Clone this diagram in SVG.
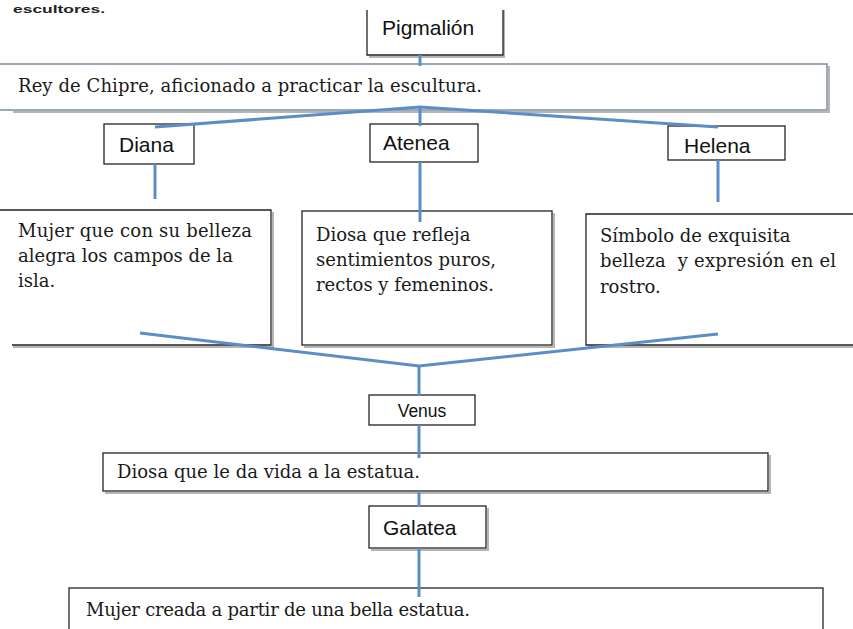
<svg xmlns="http://www.w3.org/2000/svg" width="853" height="629" viewBox="0 0 853 629">
<defs>
<style>
.bx{fill:#fff;stroke:#222;stroke-width:1.3}
.sh{fill:none;stroke:#b5b5b5;stroke-width:2}
.lbl{font-family:"Liberation Sans",Arial,sans-serif;font-size:21px;fill:#111}
.txt{font-family:"DejaVu Serif","Liberation Serif",serif;font-size:18px;fill:#1a1a1a;white-space:pre}
.con{stroke:#5b8ec6;stroke-width:3;fill:none;stroke-linecap:butt}
</style>
</defs>
<rect width="853" height="629" fill="#fff"/>
<text x="13" y="13" font-family="Liberation Sans, Arial, sans-serif" font-size="10" font-weight="bold" fill="#222" textLength="92" lengthAdjust="spacingAndGlyphs">escultores.</text>

<g id="pigmalion">
<path class="sh" d="M504,10 V57 H369"/>
<path class="bx" d="M367,10 V55 H503 V10"/>
<text class="lbl" x="382" y="35">Pigmalión</text>
</g>
<g id="rey">
<path class="sh" d="M829,66 V112 H13"/>
<path d="M0,64 H827 V110 H0" fill="#fff" stroke="#7d8ca3" stroke-width="1.5"/>
<text class="txt" x="18" y="92" textLength="464" lengthAdjust="spacing">Rey de Chipre, aficionado a practicar la escultura.</text>
</g>
<g id="diana">
<rect class="bx" x="104" y="124" width="90" height="40"/>
<text class="lbl" x="119" y="152">Diana</text>
</g>
<g id="atenea">
<rect class="bx" x="370" y="124" width="108" height="38"/>
<text class="lbl" x="383" y="150">Atenea</text>
</g>
<g id="helena">
<rect class="bx" x="668" y="126" width="117" height="34"/>
<text class="lbl" x="684" y="153">Helena</text>
</g>
<g id="diana-desc">
<path class="sh" d="M273,212 V347 H13"/>
<path class="bx" d="M0,210 H271 V345 H12"/>
<text class="txt" x="18" y="237" textLength="234" lengthAdjust="spacing">Mujer que con su belleza</text>
<text class="txt" x="18" y="262">alegra los campos de la</text>
<text class="txt" x="18" y="287">isla.</text>
</g>
<g id="atenea-desc">
<path class="sh" d="M554,213 V347 H304"/>
<rect class="bx" x="302" y="211" width="250" height="134"/>
<text class="txt" x="316" y="241">Diosa que refleja</text>
<text class="txt" x="316" y="266">sentimientos puros,</text>
<text class="txt" x="316" y="291">rectos y femeninos.</text>
</g>
<g id="helena-desc">
<path class="sh" d="M588,347 H853"/>
<path class="bx" d="M853,214 H586 V345 H853"/>
<text class="txt" x="600" y="242">Símbolo de exquisita</text>
<text class="txt" x="600" y="267" textLength="236" lengthAdjust="spacing">belleza  y expresión en el</text>
<text class="txt" x="600" y="293">rostro.</text>
</g>
<g id="venus">
<rect class="bx" x="369" y="395" width="106" height="30"/>
<text class="lbl" x="422" y="417" text-anchor="middle" style="font-size:17.5px">Venus</text>
</g>
<g id="venus-desc">
<path class="sh" d="M770,455 V493 H105"/>
<rect class="bx" x="103" y="453" width="665" height="38"/>
<text class="txt" x="117" y="478" textLength="303" lengthAdjust="spacing">Diosa que le da vida a la estatua.</text>
</g>
<g id="galatea">
<path class="sh" d="M488,508 V550 H371"/>
<rect class="bx" x="369" y="506" width="117" height="42"/>
<text class="lbl" x="383" y="535">Galatea</text>
</g>
<g id="galatea-desc">
<rect class="bx" x="69" y="588" width="754" height="60"/>
<text class="txt" x="86" y="616" textLength="384" lengthAdjust="spacing">Mujer creada a partir de una bella estatua.</text>
</g>

<g id="connectors">
<line class="con" x1="420" y1="55" x2="420" y2="66"/>
<path class="con" d="M155,127 L420,107 L718,127"/>
<line class="con" x1="420" y1="107" x2="420" y2="126"/>
<line class="con" x1="155" y1="164" x2="155" y2="199"/>
<line class="con" x1="420" y1="162" x2="420" y2="222"/>
<line class="con" x1="718" y1="160" x2="718" y2="202"/>
<path class="con" d="M140,333 L419,366 L718,334"/>
<line class="con" x1="419" y1="366" x2="419" y2="396"/>
<line class="con" x1="419" y1="425" x2="419" y2="458"/>
<line class="con" x1="419" y1="491" x2="419" y2="507"/>
<line class="con" x1="419" y1="548" x2="419" y2="597"/>
</g>
</svg>
